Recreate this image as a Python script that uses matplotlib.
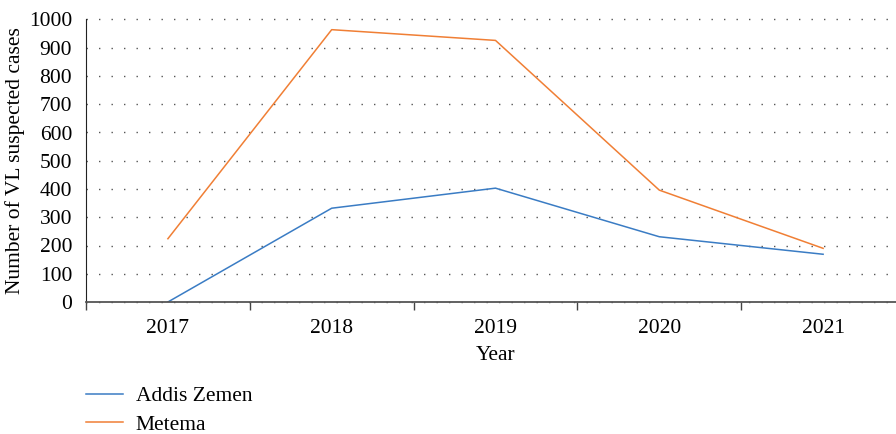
import matplotlib
matplotlib.use("Agg")
import matplotlib.pyplot as plt

years = ["2017", "2018", "2019", "2020", "2021"]
addis_zemen = [0, 332, 403, 231, 169]
metema = [224, 964, 926, 396, 190]
y_ticks = [0, 100, 200, 300, 400, 500, 600, 700, 800, 900, 1000]

plt.rcParams['font.family'] = ['Liberation Serif', 'DejaVu Serif']
fs = 15.5

fig = plt.figure(figsize=(8.96, 4.34), dpi=100)
# axes run slightly past the right edge of the figure, like the original
ax = fig.add_axes([86 / 896, 132 / 434, 819 / 896, 282.5 / 434])

x = list(range(len(years)))
ax.plot(x, addis_zemen, color='#3A7CC4', lw=1.1, label='Addis Zemen')
ax.plot(x, metema, color='#F07F35', lw=1.1, label='Metema')

ax.set_xlim(-0.5, len(years) - 0.5)
ax.set_ylim(0, 1000)
ax.set_yticks(y_ticks)
ax.set_yticklabels([str(v) for v in y_ticks], fontsize=fs)
ax.tick_params(axis='y', length=0, pad=10)

# category axis: ticks sit between the years
ax.set_xticks([i + 0.5 for i in range(-1, len(years))])
ax.set_xticklabels([])
ax.set_xticks(x, minor=True)
ax.set_xticklabels(years, minor=True, fontsize=fs)
ax.tick_params(axis='x', which='major', length=6, width=1, color='#444444', direction='out')
ax.tick_params(axis='x', which='minor', length=0, pad=12)

ax.grid(axis='y', which='major', color='#555555', lw=1.0, linestyle=(0, (1, 8)))
for gl in ax.get_ygridlines():
    gl.set_clip_on(False)
ax.set_axisbelow(True)

for s in ['top', 'right']:
    ax.spines[s].set_visible(False)
ax.spines['left'].set_color('#222222')
ax.spines['bottom'].set_color('#555555')
ax.spines['bottom'].set_linewidth(1.3)
ax.spines['bottom'].set_zorder(3)

ax.set_xlabel('Year', fontsize=fs, labelpad=6)
ax.set_ylabel('Number of VL suspected cases', fontsize=fs, labelpad=3)

fig.legend(loc='upper left', bbox_to_anchor=(86 / 896, 1 - 386 / 434), frameon=False,
           fontsize=fs, handlelength=1.7, handletextpad=0.6, labelspacing=0.4,
           borderpad=0, borderaxespad=0)

fig.savefig('out.png', dpi=100)
